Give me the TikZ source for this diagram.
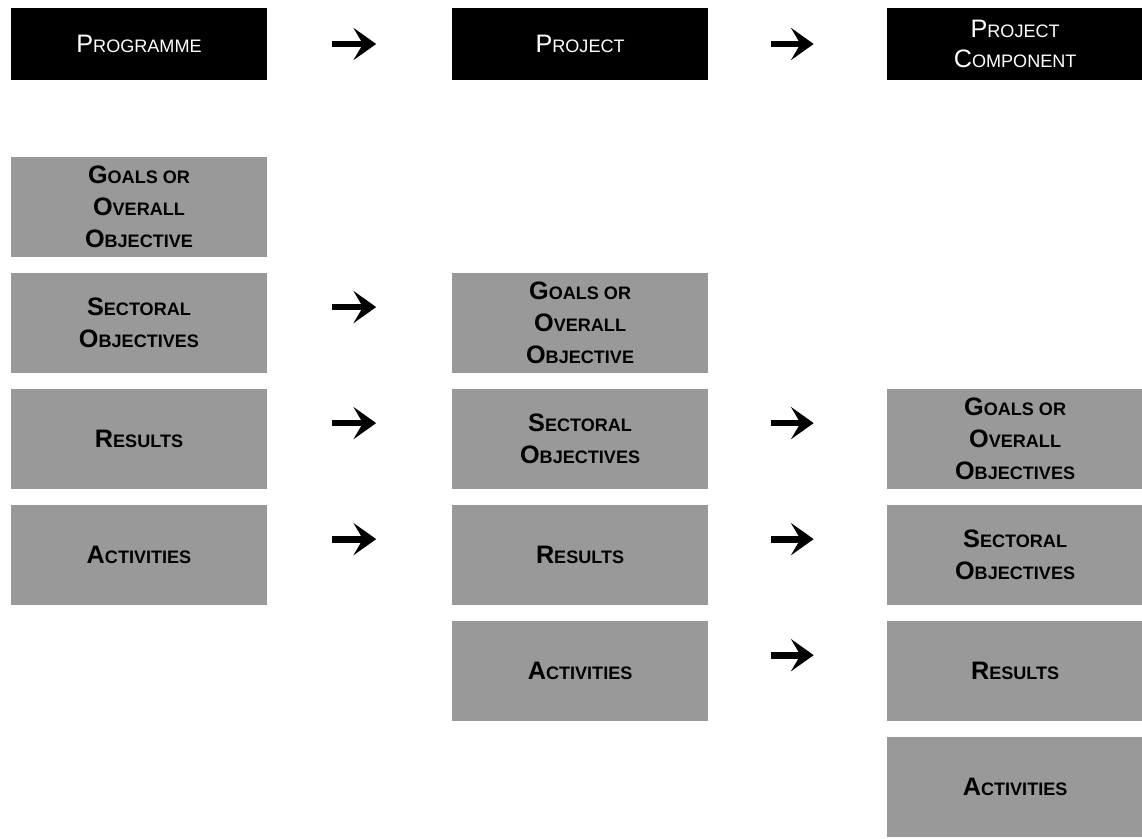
\documentclass[tikz,border=0pt]{standalone}
\usepackage{fontspec}
\setmainfont{Liberation Sans}
\usepackage{tikz}
\usetikzlibrary{calc,arrows.meta}
\newcommand{\Cap}[1]{{\fontsize{19}{24}\selectfont #1}}
\tikzstyle{head} = [rectangle, minimum width=6.77cm, minimum height=1.9cm, text centered, align=center, fill=black, text=white, font=\fontsize{13.6}{22}\selectfont]
\tikzstyle{level} = [rectangle, minimum width=6.77cm, minimum height=2.65cm, text centered, align=center, fill=black!40, font=\bfseries\fontsize{13.6}{24}\selectfont]
\tikzstyle{arrow} = [line width=1.8mm, -{Stealth[length=6mm,width=8.5mm,inset=2.5mm]}]

\begin{document}
\begin{tikzpicture}[node distance=3.07cm]
\useasboundingbox (-3.678,1.164) rectangle (26.537,-21.008);
\node (prog) [head] {\Cap{P}ROGRAMME};
\node (proj) [head, right of=prog, node distance=11.67cm] {\Cap{P}ROJECT};
\node (comp) [head, right of=proj, node distance=11.51cm] {\Cap{P}ROJECT\\\Cap{C}OMPONENT};
% programme column
\node (pgoal) [level, below of=prog, node distance=4.31cm] {\Cap{G}OALS OR\\\Cap{O}VERALL\\\Cap{O}BJECTIVE};
\node (psec) [level, below of=pgoal] {\Cap{S}ECTORAL\\\Cap{O}BJECTIVES};
\node (pres) [level, below of=psec] {\Cap{R}ESULTS};
\node (pact) [level, below of=pres] {\Cap{A}CTIVITIES};
% project column
\node (jgoal) [level, right of=psec, node distance=11.67cm] {\Cap{G}OALS OR\\\Cap{O}VERALL\\\Cap{O}BJECTIVE};
\node (jsec) [level, below of=jgoal] {\Cap{S}ECTORAL\\\Cap{O}BJECTIVES};
\node (jres) [level, below of=jsec] {\Cap{R}ESULTS};
\node (jact) [level, below of=jres] {\Cap{A}CTIVITIES};
% project component column
\node (cgoal) [level, right of=jsec, node distance=11.51cm] {\Cap{G}OALS OR\\\Cap{O}VERALL\\\Cap{O}BJECTIVES};
\node (csec) [level, below of=cgoal] {\Cap{S}ECTORAL\\\Cap{O}BJECTIVES};
\node (cres) [level, below of=csec] {\Cap{R}ESULTS};
\node (cact) [level, below of=cres] {\Cap{A}CTIVITIES};
\draw [arrow] ($(prog.east)!0.35!(proj.west)$) -- ($(prog.east)!0.59!(proj.west)$);
\draw [arrow] ($(proj.east)!0.35!(comp.west)$) -- ($(proj.east)!0.59!(comp.west)$);
\draw [arrow] ($(psec.east)!0.35!(jgoal.west)+(0,0.42)$) -- ($(psec.east)!0.59!(jgoal.west)+(0,0.42)$);
\draw [arrow] ($(pres.east)!0.35!(jsec.west)+(0,0.42)$) -- ($(pres.east)!0.59!(jsec.west)+(0,0.42)$);
\draw [arrow] ($(pact.east)!0.35!(jres.west)+(0,0.42)$) -- ($(pact.east)!0.59!(jres.west)+(0,0.42)$);
\draw [arrow] ($(jsec.east)!0.35!(cgoal.west)+(0,0.42)$) -- ($(jsec.east)!0.59!(cgoal.west)+(0,0.42)$);
\draw [arrow] ($(jres.east)!0.35!(csec.west)+(0,0.42)$) -- ($(jres.east)!0.59!(csec.west)+(0,0.42)$);
\draw [arrow] ($(jact.east)!0.35!(cres.west)+(0,0.42)$) -- ($(jact.east)!0.59!(cres.west)+(0,0.42)$);

\end{tikzpicture}
\end{document}
